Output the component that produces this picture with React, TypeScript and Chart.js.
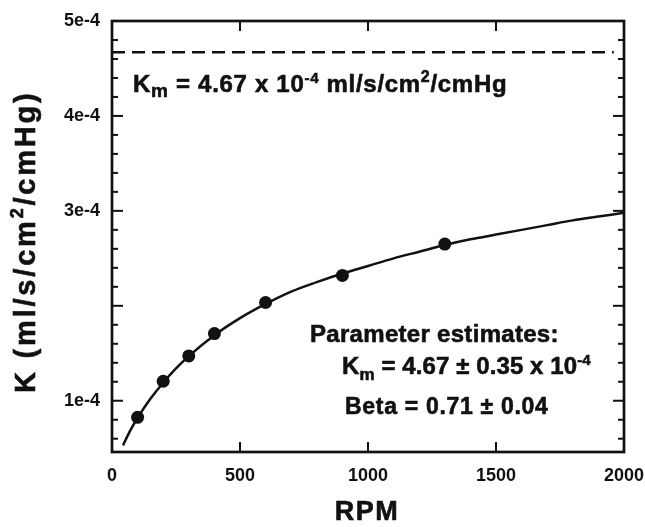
import React, { useEffect, useRef } from 'react';
import { Chart, registerables } from 'chart.js';

Chart.register(...registerables);

// ---- data ----
const rpmMeasured = [100, 200, 300, 400, 600, 900, 1300];
const kMeasured = [0.825e-4, 1.205e-4, 1.472e-4, 1.707e-4, 2.035e-4, 2.32e-4, 2.65e-4];

const rpmFit = [43, 70, 100, 150, 200, 250, 300, 400, 500, 600, 700, 800, 900, 1000, 1100, 1200, 1300, 1400, 1500, 1600, 1700, 1800, 1900, 2000];
const kFit = [0.53e-4, 0.68e-4, 0.82e-4, 1.02e-4, 1.19e-4, 1.34e-4, 1.47e-4, 1.69e-4, 1.87e-4, 2.02e-4, 2.15e-4, 2.25e-4, 2.34e-4, 2.42e-4, 2.5e-4, 2.57e-4, 2.64e-4, 2.7e-4, 2.75e-4, 2.8e-4, 2.85e-4, 2.9e-4, 2.94e-4, 2.98e-4];

const kmValue = 4.67e-4;
const kmLineRpm = [0, 1960];

const xTickValues = [0, 500, 1000, 1500, 2000];
const xTickLabels = ['0', '500', '1000', '1500', '2000'];
const yTickValues = [1e-4, 2e-4, 3e-4, 4e-4, 5e-4];
const yTickLabels = ['1e-4', '', '3e-4', '4e-4', '5e-4'];
const yMinorTickValues = [0.6e-4, 0.8e-4, 1.2e-4, 1.4e-4, 1.6e-4, 1.8e-4, 2.2e-4, 2.4e-4, 2.6e-4, 2.8e-4, 3.2e-4, 3.4e-4, 3.6e-4, 3.8e-4, 4.2e-4, 4.4e-4, 4.6e-4, 4.8e-4];

const FAMILY = "'Liberation Sans', Arial, Helvetica, sans-serif";
const INK = '#111111';

type Seg = { t: string; size: number; dy?: number };

function drawRich(ctx: CanvasRenderingContext2D, segs: Seg[], x: number, y: number, spacing: number, heavy = 0.6) {
  let cx = x;
  for (const s of segs) {
    ctx.font = `bold ${s.size}px ${FAMILY}`;
    (ctx as any).letterSpacing = `${spacing}px`;
    ctx.fillText(s.t, cx, y + (s.dy || 0));
    if (heavy > 0) {
      ctx.lineWidth = heavy;
      ctx.strokeText(s.t, cx, y + (s.dy || 0));
    }
    cx += ctx.measureText(s.t).width;
  }
  (ctx as any).letterSpacing = '0px';
}

const framePlugin = {
  id: 'frameAndText',
  afterDraw(chart: any) {
    const { ctx, chartArea, scales } = chart;
    const { left, right, top, bottom } = chartArea;
    const x = scales.x;
    const y = scales.y;
    ctx.save();
    ctx.strokeStyle = INK;
    ctx.fillStyle = INK;
    ctx.lineCap = 'butt';

    // frame
    ctx.lineWidth = 2.7;
    ctx.strokeRect(left, top, right - left, bottom - top);

    // ticks
    ctx.lineWidth = 2;
    const seg = (x1: number, y1: number, x2: number, y2: number) => {
      ctx.beginPath();
      ctx.moveTo(x1, y1);
      ctx.lineTo(x2, y2);
      ctx.stroke();
    };
    for (const v of xTickValues.slice(1, -1)) {
      const px = x.getPixelForValue(v);
      seg(px, bottom, px, bottom - 10);
      seg(px, top, px, top + 10);
    }
    for (const v of yTickValues) {
      const py = y.getPixelForValue(v);
      seg(left, py, left + 11, py);
      seg(right, py, right - 11, py);
    }
    for (const v of yMinorTickValues) {
      const py = y.getPixelForValue(v);
      seg(left, py, left + 6, py);
      seg(right, py, right - 6, py);
    }

    ctx.textBaseline = 'alphabetic';
    ctx.textAlign = 'left';

    // Km annotation near the dashed line
    drawRich(ctx, [
      { t: 'K', size: 24 },
      { t: 'm', size: 19, dy: 5 },
      { t: ' = 4.67 x 10', size: 24 },
      { t: '-4', size: 15, dy: -9 },
      { t: ' ml/s/cm', size: 24 },
      { t: '2', size: 16, dy: -10 },
      { t: '/cmHg', size: 24 },
    ], 133, 92, 0.7);

    // Parameter estimates block
    drawRich(ctx, [{ t: 'Parameter estimates:', size: 24 }], 310, 342, 0.3);
    drawRich(ctx, [
      { t: 'K', size: 24 },
      { t: 'm', size: 17, dy: 6 },
      { t: ' = 4.67 ± 0.35 x 10', size: 24 },
      { t: '-4', size: 15, dy: -9 },
    ], 342, 374, 0.1);
    drawRich(ctx, [{ t: 'Beta = 0.71 ± 0.04', size: 23 }], 345, 414, 0.7);

    // x axis title
    ctx.font = `bold 27px ${FAMILY}`;
    (ctx as any).letterSpacing = '1.5px';
    const w = ctx.measureText('RPM').width;
    ctx.fillText('RPM', 367 - w / 2, 520);
    ctx.lineWidth = 0.6;
    ctx.strokeText('RPM', 367 - w / 2, 520);
    (ctx as any).letterSpacing = '0px';

    // y axis title (rotated)
    ctx.save();
    ctx.translate(35, 393);
    ctx.rotate(-Math.PI / 2);
    drawRich(ctx, [
      { t: 'K', size: 29 },
      { t: ' (ml/s/cm', size: 29 },
      { t: '2', size: 18, dy: -12 },
      { t: '/cmHg)', size: 29 },
    ], 0, 0, 2.8);
    ctx.restore();

    ctx.restore();
  },
};

export default function App() {
  const ref = useRef<HTMLCanvasElement>(null);

  useEffect(() => {
    const tickFont = { family: FAMILY, size: 18, weight: 'bold' as const };
    const chart = new Chart(ref.current as HTMLCanvasElement, {
      type: 'scatter',
      data: {
        datasets: [
          {
            label: 'Measured',
            data: rpmMeasured.map((r, i) => ({ x: r, y: kMeasured[i] })),
            pointRadius: 6.5,
            pointBackgroundColor: INK,
            pointBorderWidth: 0,
            showLine: false,
          },
          {
            label: 'Fit',
            data: rpmFit.map((r, i) => ({ x: r, y: kFit[i] })),
            showLine: true,
            pointRadius: 0,
            borderColor: INK,
            borderWidth: 2.5,
            cubicInterpolationMode: 'monotone',
          },
          {
            label: 'Km',
            data: kmLineRpm.map((r) => ({ x: r, y: kmValue })),
            showLine: true,
            pointRadius: 0,
            borderColor: INK,
            borderWidth: 2.5,
            borderDash: [13, 7],
          },
        ],
      },
      options: {
        animation: false,
        responsive: true,
        maintainAspectRatio: false,
        layout: { padding: { top: 21, right: 21, left: 0, bottom: 0 } },
        plugins: { legend: { display: false }, tooltip: { enabled: false } },
        scales: {
          x: {
            type: 'linear',
            min: 0,
            max: 2000,
            afterBuildTicks: (s: any) => {
              s.ticks = xTickValues.map((v) => ({ value: v }));
            },
            afterFit: (s: any) => {
              s.height = 75;
              s.paddingLeft = 0;
              s.paddingRight = 0;
            },
            ticks: {
              font: tickFont,
              color: INK,
              padding: 13,
              maxRotation: 0,
              autoSkip: false,
              callback: (_v: any, i: number) => xTickLabels[i],
            },
            grid: { display: false, drawTicks: false },
            border: { display: false },
          },
          y: {
            type: 'linear',
            min: 0.46e-4,
            max: 5e-4,
            afterBuildTicks: (s: any) => {
              s.ticks = yTickValues.map((v) => ({ value: v }));
            },
            afterFit: (s: any) => {
              s.width = 112;
              s.paddingTop = 0;
              s.paddingBottom = 0;
            },
            ticks: {
              font: tickFont,
              color: INK,
              padding: 12,
              autoSkip: false,
              callback: (_v: any, i: number) => yTickLabels[i],
            },
            grid: { display: false, drawTicks: false },
            border: { display: false },
          },
        },
      },
      plugins: [framePlugin],
    } as any);
    return () => chart.destroy();
  }, []);

  return (
    <div style={{ position: 'fixed', left: 0, top: 0, width: 645, height: 527, background: '#ffffff' }}>
      <canvas ref={ref} />
    </div>
  );
}
